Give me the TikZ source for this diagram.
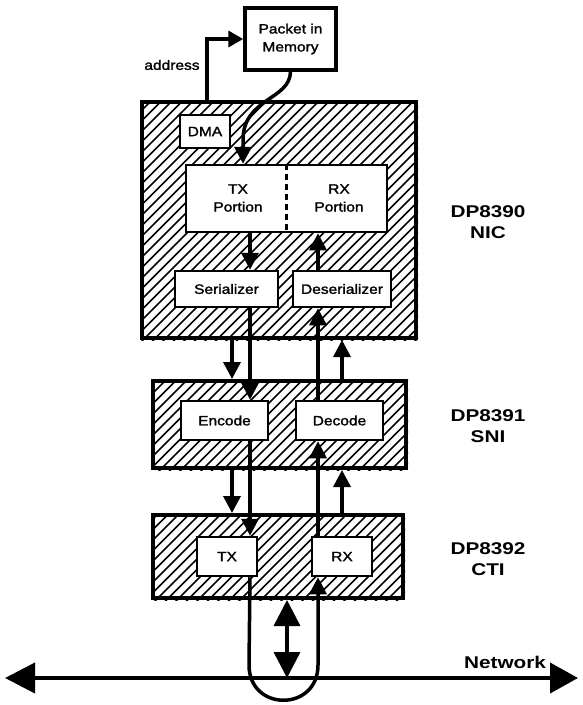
\documentclass[tikz,border=0pt]{standalone}
\usepackage{fontspec}
\setmainfont{Liberation Sans}[FakeStretch=1.15,FakeBold=1.6]
\newfontfamily\labfont{Liberation Sans}[FakeStretch=1.22]
\usetikzlibrary{arrows.meta}
\begin{document}
\begin{tikzpicture}[x=1pt,y=-1pt,
  box/.style={draw, line width=2.5pt, fill=white, inner sep=0pt, align=center,
              font=\fontsize{13.5}{18}\selectfont},
  chip/.style={draw, line width=4pt, inner sep=0pt},
  hatchline/.style={line width=1.5pt},
  flow/.style={line width=3.5pt, -{Triangle[length=17pt,width=17pt]}},
  dbl/.style={line width=3.5pt, {Triangle[length=26pt,width=26pt]}-{Triangle[length=26pt,width=26pt]}},
  netline/.style={line width=4pt, {Triangle[length=30pt,width=30pt]}-{Triangle[length=28pt,width=30pt]}},
  lab/.style={align=center, font=\labfont\bfseries\fontsize{17}{21}\selectfont, inner sep=0pt},
  small/.style={font=\fontsize{13.5}{15}\selectfont, inner sep=0pt}]
\useasboundingbox (0,0) rectangle (582,705);

% lanes
\coordinate (laneA) at (232,0);
\coordinate (laneB) at (250,0);
\coordinate (laneC) at (318,0);
\coordinate (laneD) at (342,0);
\coordinate (laneM) at (287,0);
\coordinate (laneP) at (243,0);
\coordinate (laneAddr) at (207,0);

% chips
\node[chip, minimum width=274pt, minimum height=236pt] (nic) at (279,220) {};
\node[chip, minimum width=253pt, minimum height=87pt] (sni) at (279.5,424.5) {};
\node[chip, minimum width=250pt, minimum height=83pt] (cti) at (278,556.5) {};

\foreach \c in {nic,sni,cti}{
  \begin{scope}
    \clip (\c.south west) rectangle (\c.north east);
    \foreach \k in {0,...,125}
      \draw[hatchline] ({\k*10.5-705},705) -- ({\k*10.5},0);
  \end{scope}
}

% memory
\node[box, line width=3.5pt, minimum width=91pt, minimum height=62pt] (mem) at (290.5,39) {Packet in\\Memory};

% NIC contents
\node[box, minimum width=50pt, minimum height=33pt] (dma) at (205,131.5) {DMA};
\node[box, minimum width=201pt, minimum height=67pt] (portion) at (286.5,198.5) {};
\node[small, align=center, font=\fontsize{13.5}{18}\selectfont] (txp) at (238,198) {TX\\Portion};
\node[small, align=center, font=\fontsize{13.5}{18}\selectfont] (rxp) at (339,198) {RX\\Portion};
\draw[line width=2.5pt, dash pattern=on 6pt off 4pt] (portion.north) -- (portion.south);
\node[box, minimum width=103pt, minimum height=36pt] (ser) at (226.5,289) {Serializer};
\node[box, minimum width=98pt, minimum height=36pt] (deser) at (342,289) {Deserializer};

% SNI contents
\node[box, minimum width=87pt, minimum height=39pt] (enc) at (224.5,420.5) {Encode};
\node[box, minimum width=87pt, minimum height=39pt] (dec) at (339.5,420.5) {Decode};

% CTI contents
\node[box, minimum width=60pt, minimum height=39pt] (tx) at (227,556.5) {TX};
\node[box, minimum width=60pt, minimum height=39pt] (rx) at (342,556.5) {RX};

% address
\draw[line width=3.5pt, -{Triangle[length=15pt,width=16pt]}] (nic.north -| laneAddr) |- (mem.west);
\node[small] (addr) at (172,65) {address};

% memory to TX portion
\draw[flow] (mem.south) .. controls (290,100) and (243,98) .. (243,140) -- (portion.north -| laneP);

% NIC internal
\draw[flow] (portion.south -| laneB) -- (ser.north -| laneB);
\draw[flow] (deser.north -| laneC) -- (portion.south -| laneC);

% NIC <-> SNI
\draw[flow] (nic.south -| laneA) -- (sni.north -| laneA);
\draw[flow] (ser.south -| laneB) -- (enc.north -| laneB);
\draw[flow] (dec.north -| laneC) -- (deser.south -| laneC);
\draw[flow] (sni.north -| laneD) -- (nic.south -| laneD);

% SNI <-> CTI
\draw[flow] (sni.south -| laneA) -- (cti.north -| laneA);
\draw[flow] (enc.south -| laneB) -- (tx.north -| laneB);
\draw[flow] (rx.north -| laneC) -- (dec.south -| laneC);
\draw[flow] (cti.north -| laneD) -- (sni.south -| laneD);

% network
\coordinate (netL) at (5,678);
\coordinate (netR) at (578,678);
\draw[netline] (netL) -- (netR);
\node[lab] (netlab) at (505,662) {Network};

% loop
\draw[flow] (tx.south -| laneB) -- (249,665) .. controls (249,712) and (318,712) .. (318,665) -- (rx.south -| laneC);

% transceiver double arrow
\draw[dbl] (cti.south -| laneM) -- (laneM |- netL);

% labels
\node[lab] (niclab) at (488,222) {DP8390\\NIC};
\node[lab] (snilab) at (488,426) {DP8391\\SNI};
\node[lab] (ctilab) at (488,559) {DP8392\\CTI};
\end{tikzpicture}
\end{document}
